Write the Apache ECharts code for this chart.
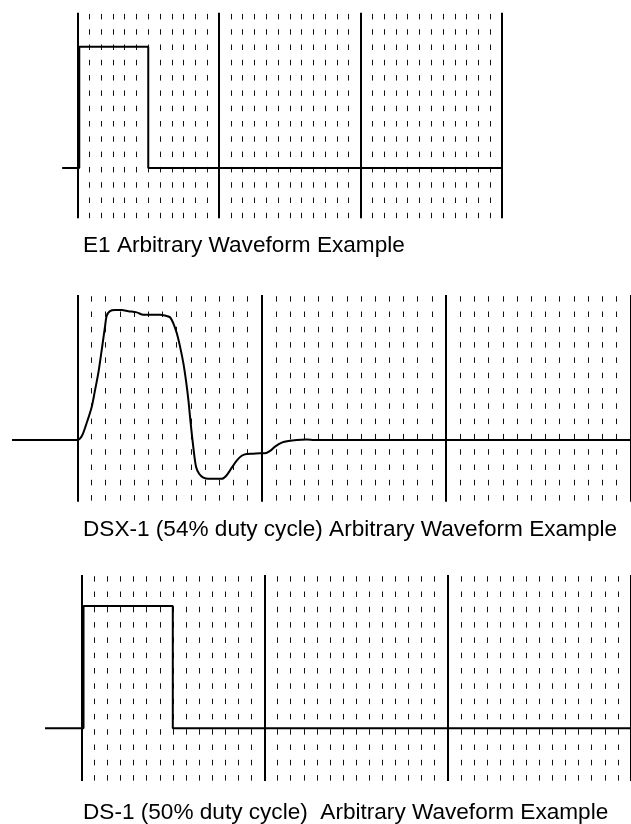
<!DOCTYPE html>
<html>
<head>
<meta charset="utf-8">
<style>
html,body{margin:0;padding:0;background:#fff;}
#chart{width:631px;height:824px;}
</style>
<script src="https://cdn.jsdelivr.net/npm/echarts@6/dist/echarts.min.js"></script>
</head>
<body>
<div id="chart"></div>
<script>
// ---- data (x in minor grid divisions, y in pulse-height units) ----
const titles = [
  'E1 Arbitrary Waveform Example',
  'DSX-1 (54% duty cycle) Arbitrary Waveform Example',
  'DS-1 (50% duty cycle)  Arbitrary Waveform Example'
];
const divisionsPerPanel = [12, 13, 14];   // minor divisions per major division
const majorDivisions = 3;

const e1X = [-1.3, 0.15, 0.15, 6, 6, 36];
const e1Y = [0, 0, 1, 1, 0, 0];

const dsx1X = [-4.6, 0, 0.31, 0.66, 1.01, 1.25, 1.48, 1.72, 1.95, 2.07, 2.30, 2.66, 3.13, 3.60, 4.19, 4.66, 5.13, 5.83, 6.30, 6.54, 6.77, 7.01, 7.24, 7.48, 7.66, 7.83, 7.99, 8.18, 8.37, 8.60, 8.89, 9.24, 9.83, 10.18, 10.53, 10.88, 11.24, 11.59, 11.94, 12.41, 12.88, 13.23, 13.59, 13.94, 14.41, 14.88, 15.47, 16.17, 16.7, 39];
const dsx1Y = [0, 0, 0.03, 0.14, 0.27, 0.41, 0.55, 0.74, 0.93, 1.02, 1.06, 1.07, 1.07, 1.06, 1.05, 1.03, 1.03, 1.03, 1.02, 1.01, 0.96, 0.88, 0.77, 0.63, 0.49, 0.33, 0.14, -0.06, -0.22, -0.28, -0.31, -0.32, -0.32, -0.32, -0.29, -0.23, -0.17, -0.13, -0.115, -0.113, -0.11, -0.11, -0.09, -0.055, -0.022, -0.008, 0, 0.003, 0, 0];

const ds1X = [-2.76, 0.18, 0.18, 7, 7, 42];
const ds1Y = [0, 0, 1, 1, 0, 0];

const yRanges = [[-0.414, 1.280], [-0.508, 1.193], [-0.431, 1.2535]];

// ---- layout ----
const frames = [
  {left: 77.5, top: 12.7, width: 424.5, height: 205.5},
  {left: 77.3, top: 295, width: 553.2, height: 206.7},
  {left: 81.3, top: 575, width: 552, height: 206}
];
const titleTops = [234.5, 518.5, 801.5];
const titleLeft = 83;

function zip(xs, ys){ return xs.map((x, i) => [x, ys[i]]); }
const waves = [[e1X, e1Y], [dsx1X, dsx1Y], [ds1X, ds1Y]];

const grids = [], xAxis = [], yAxis = [], series = [];
const hidden = {axisLine: {show: false}, axisTick: {show: false}, axisLabel: {show: false}, splitLine: {show: false}};

divisionsPerPanel.forEach((n, i) => {
  const f = frames[i];
  const span = n * majorDivisions;
  const pxPer = f.width / span;
  const xs = waves[i][0];
  const xStart = Math.min(...xs), xEnd = Math.max(...xs);
  // frame grid (grid lines only)
  grids.push(Object.assign({containLabel: false}, f));
  xAxis.push({
    type: 'value', gridIndex: 2 * i, min: 0, max: span, interval: n,
    axisLine: {show: false}, axisTick: {show: false}, axisLabel: {show: false},
    splitLine: {show: true, showMinLine: true, showMaxLine: true, lineStyle: {color: '#000', width: 2}},
    minorTick: {show: false, splitNumber: n},
    minorSplitLine: {show: true, lineStyle: {color: '#111', width: 1, type: [5.5, 9.8], dashOffset: -1.2}}
  });
  yAxis.push(Object.assign({type: 'value', gridIndex: 2 * i, min: yRanges[i][0], max: yRanges[i][1]}, hidden));
  // waveform grid (same scale, extends left for the lead-in line)
  grids.push({containLabel: false, left: f.left + xStart * pxPer, top: f.top,
              width: (xEnd - xStart) * pxPer, height: f.height});
  xAxis.push(Object.assign({type: 'value', gridIndex: 2 * i + 1, min: xStart, max: xEnd}, hidden));
  yAxis.push(Object.assign({type: 'value', gridIndex: 2 * i + 1, min: yRanges[i][0], max: yRanges[i][1]}, hidden));
  series.push({
    type: 'line', xAxisIndex: 2 * i + 1, yAxisIndex: 2 * i + 1,
    data: zip(waves[i][0], waves[i][1]), showSymbol: false, clip: false,
    smooth: i === 1 ? 0.3 : false,
    lineStyle: {color: '#000', width: 2}, z: 5
  });
});

const chart = echarts.init(document.getElementById('chart'), null, {renderer: 'canvas'});
chart.setOption({
  animation: false,
  backgroundColor: '#fff',
  title: titles.map((t, i) => ({
    text: t, left: titleLeft, top: titleTops[i], padding: 0,
    textStyle: {fontFamily: 'Liberation Sans, Arial, sans-serif', fontSize: 22.6, fontWeight: 'normal', color: '#000'}
  })),
  grid: grids,
  xAxis, yAxis, series
});
</script>
</body>
</html>
